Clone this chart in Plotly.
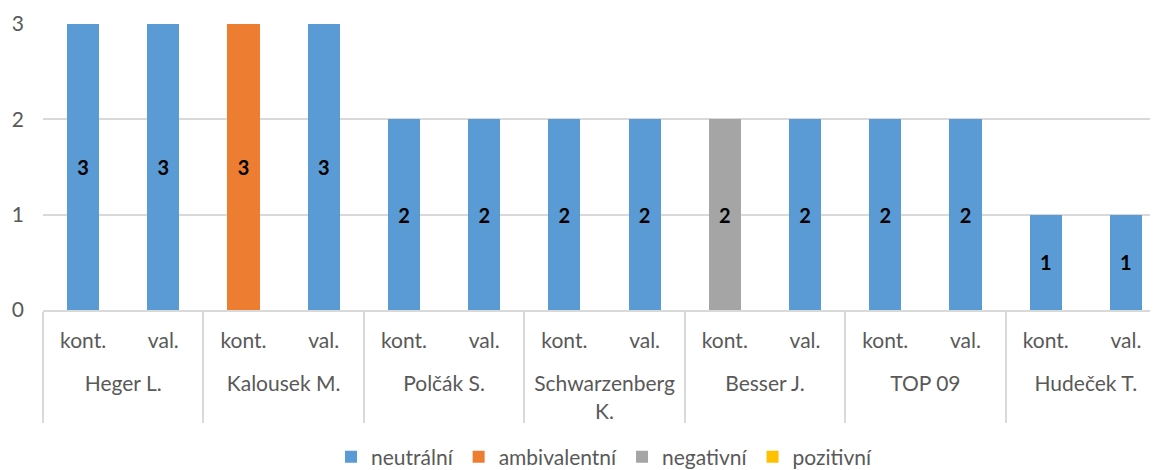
import plotly.graph_objects as go

groups = ["Heger L.", "Kalousek M.", "Polčák S.", "Schwarzenberg<br>K.", "Besser J.", "TOP 09", "Hudeček T."]
subs = ["kont.", "val."]
neutralni = [3, 3, 0, 3, 2, 2, 2, 2, 0, 2, 2, 2, 1, 1]
ambivalentni = [0, 0, 3, 0, 0, 0, 0, 0, 0, 0, 0, 0, 0, 0]
negativni = [0, 0, 0, 0, 0, 0, 0, 0, 2, 0, 0, 0, 0, 0]
pozitivni = [0, 0, 0, 0, 0, 0, 0, 0, 0, 0, 0, 0, 0, 0]
y_ticks = [0, 1, 2, 3]

# leading line break pushes the group labels one line lower, as in the reference
x_outer = ["<br>" + g for g in groups for _ in subs]
x_inner = [s for _ in groups for s in subs]

series = [
    ("neutrální", neutralni, "#5B9BD5"),
    ("ambivalentní", ambivalentni, "#ED7D31"),
    ("negativní", negativni, "#A5A5A5"),
    ("pozitivní", pozitivni, "#FFC000"),
]

FONT = "Lato"

fig = go.Figure()
for name, vals, color in series:
    fig.add_trace(go.Bar(
        name=name,
        x=[x_outer, x_inner],
        y=vals,
        marker=dict(color=color, line=dict(width=0)),
        text=[str(v) if v else "" for v in vals],
        textposition="inside",
        insidetextanchor="middle",
        textfont=dict(family=FONT, size=20, color="black", weight="bold"),
        textangle=0,
    ))

fig.update_layout(
    barmode="stack",
    bargap=0.6,
    width=1158, height=470,
    margin=dict(l=35, r=0, t=16, b=168, autoexpand=False),
    paper_bgcolor="white",
    plot_bgcolor="white",
    font=dict(family=FONT, size=21, color="#595959"),
    showlegend=True,
    legend=dict(orientation="h", x=0.5, xanchor="center", y=-0.514, yanchor="middle",
                traceorder="normal",
                font=dict(family=FONT, size=21, color="#595959"), itemwidth=30, tracegroupgap=0),
    xaxis=dict(type="multicategory", showline=True, linecolor="#D9D9D9", linewidth=1.5,
               showdividers=True, dividercolor="#D9D9D9", dividerwidth=1.5,
               tickfont=dict(family=FONT, size=21, color="#595959"), ticks="",
               ticklabelstandoff=11, automargin=False),
    yaxis=dict(range=[0, 3], tickvals=y_ticks, showgrid=True, gridcolor="#D9D9D9",
               gridwidth=1.5, zeroline=False, showline=False, ticks="",
               tickfont=dict(family=FONT, size=21, color="#595959"), ticklabelstandoff=18,
               automargin=False),
)

fig.write_html("out.html")
